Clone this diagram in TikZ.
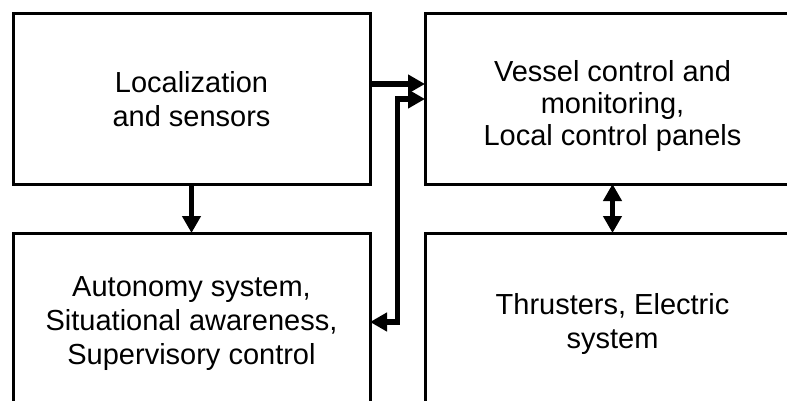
\documentclass[tikz,border=0pt]{standalone}
\usepackage{fontspec}
\setmainfont{Liberation Sans}
\usetikzlibrary{positioning,calc,arrows.meta}

\begin{document}
\begin{tikzpicture}[->,>={Triangle[length=8.5pt,width=9pt]},line width=2.75pt,
                    node distance=24.5pt and 27.5pt]
  \tikzstyle{block}=[rectangle,draw=black,line width=1.5pt,fill=white,
                     align=center,font=\fontsize{14.5}{17}\selectfont,
                     outer sep=0pt,minimum width=178.5pt,minimum height=85pt]
  \tikzstyle{wideblock}=[block,minimum width=187.5pt]
  \tikzstyle{lowblock}=[minimum height=91pt]

  \useasboundingbox (0,0) rectangle (393.5pt,-200.5pt);

  \node[block] (L) at (95.75pt,-49.5pt) {Localization\\and sensors};
  \node[wideblock,font=\fontsize{14.5}{16}\selectfont] (V) [right=of L]
       {\rule{0pt}{17.5pt}Vessel control and\\monitoring,\\Local control panels};
  \node[block,lowblock] (A) [below=of L] {Autonomy system,\\Situational awareness,\\Supervisory control};
  \node[wideblock,lowblock] (T) [below=of V] {Thrusters, Electric\\system};

  \coordinate (M) at ($(L.east)!0.5!(V.west)$);
  \coordinate (L1) at ([yshift=7.5pt]L.east);
  \coordinate (A1) at ([yshift=1pt]A.east);

  \path (L) edge (A)
        (L1) edge (L1 -| V.west)
        (V.south) edge[<->] (T.north);
  \draw[<->] (A1) -- (A1 -| M) |- (V.west);
\end{tikzpicture}
\end{document}
